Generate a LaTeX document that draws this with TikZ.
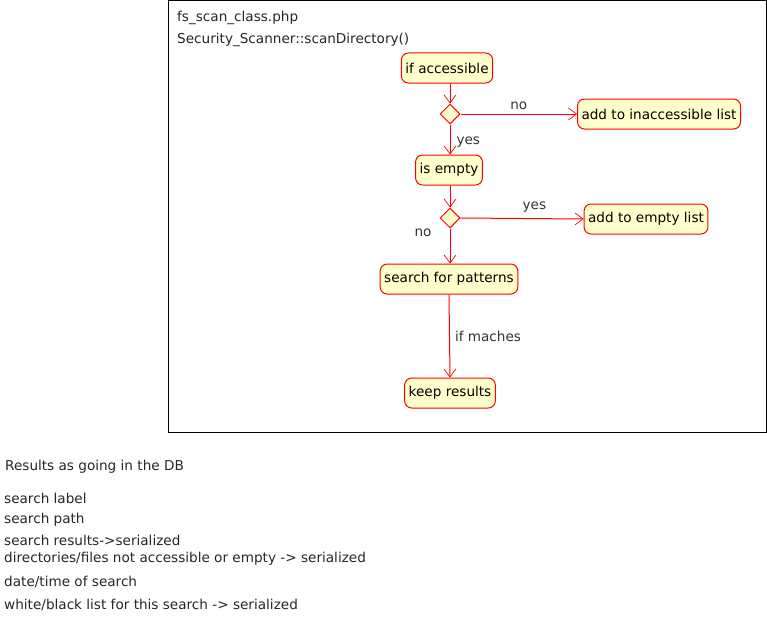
\documentclass[tikz,border=0pt]{standalone}
\usepackage{fontspec}
\setmainfont{DejaVu Sans}
\usetikzlibrary{shapes.geometric,arrows.meta}
\begin{document}
\begin{tikzpicture}[x=1pt,y=-1pt,
  act/.style={draw=red,fill={rgb,255:red,255;green,255;blue,204},rounded corners=7pt,line width=1pt,minimum height=30pt,inner xsep=4pt,font=\fontsize{13.6}{15}\selectfont},
  dec/.style={draw=red,fill={rgb,255:red,255;green,255;blue,204},diamond,minimum width=20pt,minimum height=20pt,inner sep=0pt,line width=1pt},
  flow/.style={draw=red,line width=1pt,-{Straight Barb[length=8pt,width=12pt,line width=0.7pt]}},
  lbl/.style={font=\fontsize{13.6}{15}\selectfont,text=black!80,inner sep=0pt},
  txt/.style={font=\fontsize{13.6}{15}\selectfont,text=black!85,anchor=west,inner sep=0pt}]
\useasboundingbox (0,0) rectangle (767,618);
\draw[black,line width=0.9pt] (168.5,0.5) rectangle (766,432);
\node[txt] (f1) at (177,18) {fs\_scan\_class.php};
\node[txt] (f2) at (177,40) {Security\_Scanner::scanDirectory()};
\node[act] (acc) at (447,68) {if accessible};
\node[dec] (d1) at (450,114) {};
\node[act] (inacc) at (659,114) {add to inaccessible list};
\node[act] (empty) at (449,170) {is empty};
\node[dec] (d2) at (450,218) {};
\node[act] (elist) at (646,219) {add to empty list};
\node[act] (search) at (449,279) {search for patterns};
\node[act] (keep) at (450,393) {keep results};
\draw[flow] (acc.south -| d1) -- (d1.north);
\draw[flow] (d1.east) -- (inacc.west) node[lbl,pos=0.5,above=4pt] {no};
\draw[flow] (d1.south) -- (empty.north -| d1) node[lbl,pos=0.6,right=6pt] {yes};
\draw[flow] (d2.east) -- (elist.west) node[lbl,pos=0.6,above=6pt] {yes};
\draw[flow] (empty.south -| d2) -- (d2.north);
\draw[flow] (d2.south) -- (search.north -| d2) node[lbl,pos=0.12,left=18pt] {no};
\draw[flow] (search.south) -- (keep.north) node[lbl,pos=0.5,right=5pt] {if maches};
\node[txt] (r0) at (5,467) {Results as going in the DB};
\node[txt] (r1) at (4,498) {search label};
\node[txt] (r2) at (4,520) {search path};
\node[txt] (r3) at (4,540) {search results->serialized};
\node[txt] (r4) at (4,559) {directories/files not accessible or empty -> serialized};
\node[txt] (r5) at (4,582) {date/time of search};
\node[txt] (r6) at (4,605) {white/black list for this search -> serialized};
\end{tikzpicture}
\end{document}
